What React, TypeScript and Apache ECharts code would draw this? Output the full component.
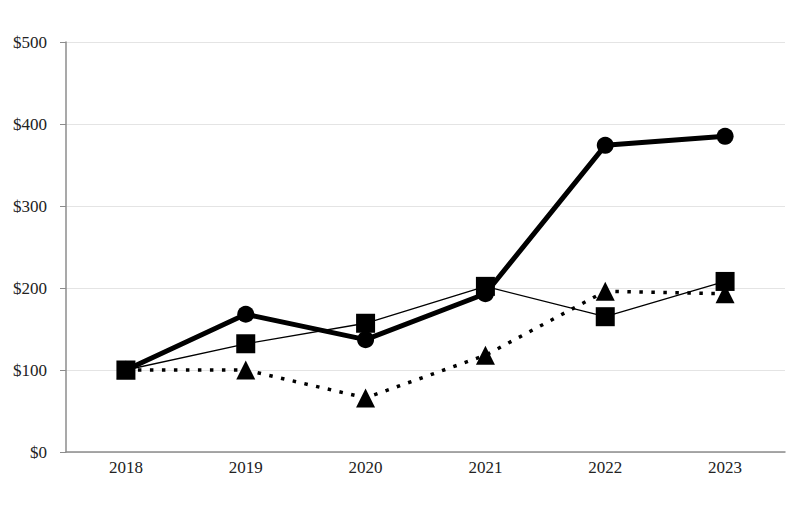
import React, { useEffect, useRef } from 'react';
import * as echarts from 'echarts';

const years = ['2018', '2019', '2020', '2021', '2022', '2023'];
const circleSeries = [100, 168, 137, 193, 374, 385];
const squareSeries = [100, 132, 157, 202, 165, 208];
const triangleSeries = [100, 100, 66, 118, 196, 193];

const font = '"Liberation Serif", "Times New Roman", serif';

const App: React.FC = () => {
  const chartRef = useRef<HTMLDivElement>(null);

  useEffect(() => {
    if (!chartRef.current) return;
    const chart = echarts.init(chartRef.current, undefined, { renderer: 'svg' });

    const option: echarts.EChartsOption = {
      animation: false,
      backgroundColor: '#fff',
      grid: { left: 58, right: 5, top: 34, bottom: 65 },
      xAxis: {
        type: 'category',
        data: years,
        boundaryGap: true,
        axisLine: { lineStyle: { color: '#8c8c8c', width: 1.5 } },
        axisTick: { alignWithLabel: true, length: 5, lineStyle: { color: '#8c8c8c' } },
        axisLabel: { color: '#222', fontFamily: font, fontSize: 17, margin: 7 },
        splitLine: { show: false }
      },
      yAxis: {
        type: 'value',
        min: 0,
        max: 500,
        interval: 100,
        axisLine: { show: true, lineStyle: { color: '#8c8c8c', width: 1.5 } },
        axisTick: { show: true, length: 6, lineStyle: { color: '#8c8c8c' } },
        axisLabel: {
          color: '#222',
          fontFamily: font,
          fontSize: 17,
          margin: 19,
          formatter: (v: number) => '$' + v
        },
        splitLine: { lineStyle: { color: '#e4e4e4', width: 1 } }
      },
      series: [
        {
          name: 'circle',
          type: 'line',
          data: circleSeries,
          symbol: 'circle',
          symbolSize: 17,
          itemStyle: { color: '#000' },
          lineStyle: { color: '#000', width: 5 },
          z: 2
        },
        {
          name: 'triangle',
          type: 'line',
          data: triangleSeries,
          symbol: 'triangle',
          symbolSize: 19,
          itemStyle: { color: '#000' },
          lineStyle: { color: '#000', width: 3.5, type: [3.5, 8.5] },
          z: 3
        },
        {
          name: 'square',
          type: 'line',
          data: squareSeries,
          symbol: 'rect',
          symbolSize: 19,
          itemStyle: { color: '#000' },
          lineStyle: { color: '#000', width: 1.3 },
          z: 4
        }
      ]
    };

    chart.setOption(option);
    return () => {
      chart.dispose();
    };
  }, []);

  return <div ref={chartRef} style={{ width: '782px', height: '509px' }} />;
};

export default App;
